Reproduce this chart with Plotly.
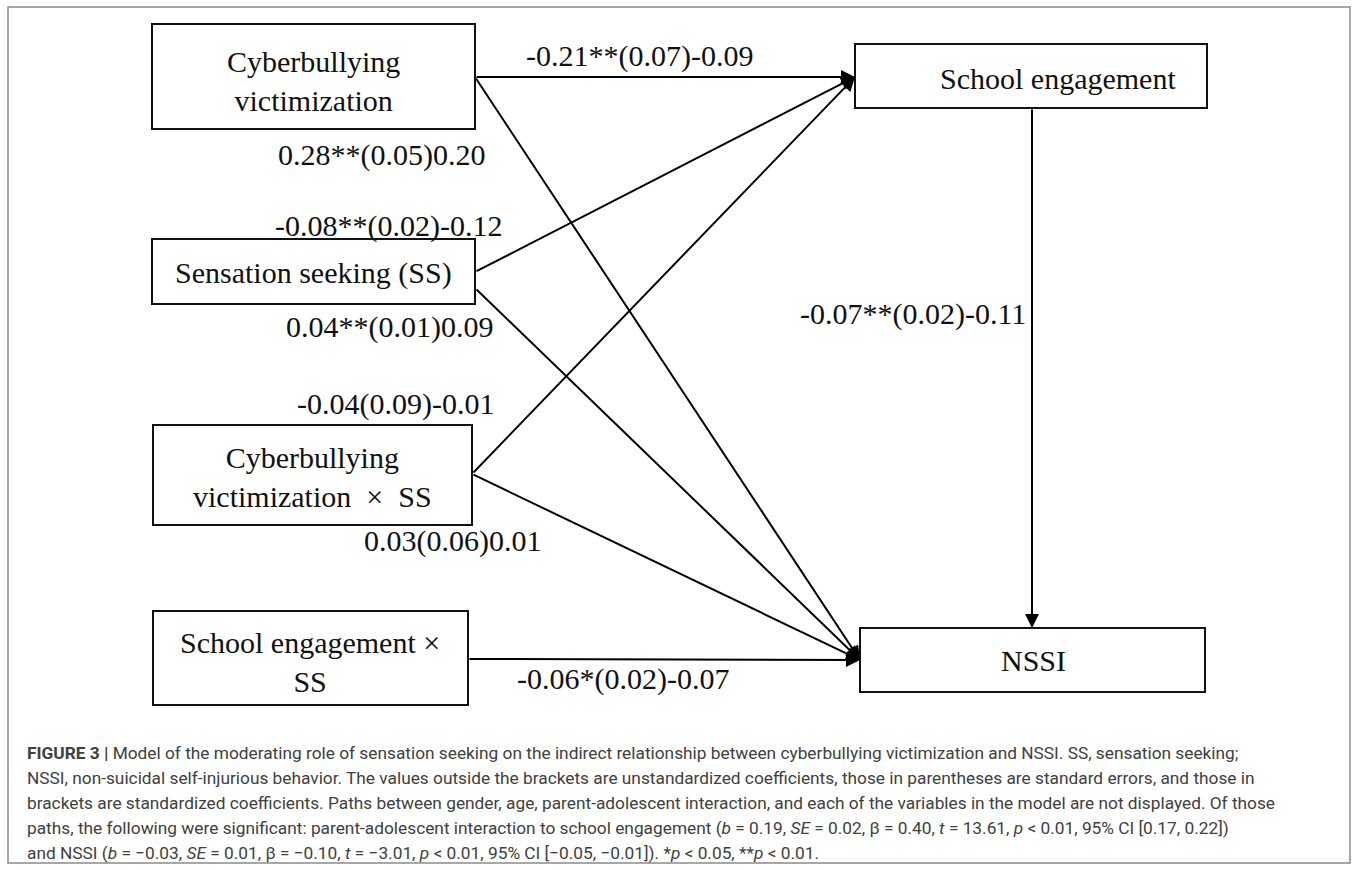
import plotly.graph_objects as go

# ---------------- data ----------------
node_names = ["CV", "SE", "SS", "CVxSS", "SExSS", "NSSI"]
node_labels = ["Cyberbullying<br>victimization", "School engagement", "Sensation seeking (SS)",
               "Cyberbullying<br>victimization\u00a0\u00a0×\u00a0\u00a0SS", "School engagement ×<br>SS", "NSSI"]

path_from = ["CV", "CV", "SS", "SS", "CVxSS", "CVxSS", "SExSS", "SE"]
path_to = ["SE", "NSSI", "SE", "NSSI", "SE", "NSSI", "NSSI", "NSSI"]
path_b = [-0.21, 0.28, -0.08, 0.04, -0.04, 0.03, -0.06, -0.07]
path_se = [0.07, 0.05, 0.02, 0.01, 0.09, 0.06, 0.02, 0.02]
path_beta = [-0.09, 0.20, -0.12, 0.09, -0.01, 0.01, -0.07, -0.11]
path_stars = ["**", "**", "**", "**", "", "", "*", "**"]

caption_lines = [
    "<b>FIGURE 3 |</b> Model of the moderating role of sensation seeking on the indirect relationship between cyberbullying victimization and NSSI. SS, sensation seeking;",
    "NSSI, non-suicidal self-injurious behavior. The values outside the brackets are unstandardized coefficients, those in parentheses are standard errors, and those in",
    "brackets are standardized coefficients. Paths between gender, age, parent-adolescent interaction, and each of the variables in the model are not displayed. Of those",
    "paths, the following were significant: parent-adolescent interaction to school engagement (<i>b</i> = 0.19, <i>SE</i> = 0.02, β = 0.40, <i>t</i> = 13.61, <i>p</i> &lt; 0.01, 95% CI [0.17, 0.22])",
    "and NSSI (<i>b</i> = −0.03, <i>SE</i> = 0.01, β = −0.10, <i>t</i> = −3.01, <i>p</i> &lt; 0.01, 95% CI [−0.05, −0.01]). *<i>p</i> &lt; 0.05, **<i>p</i> &lt; 0.01.",
]

# ---------------- layout (positions in page pixels) ----------------
W, H = 1357, 870
box = {  # x0, x1, y0, y1
    "CV": (152, 475, 24, 129),
    "SE": (855, 1207, 44, 108),
    "SS": (152, 475, 239, 304),
    "CVxSS": (153, 472, 425, 525),
    "SExSS": (153, 468, 611, 705),
    "NSSI": (860, 1205, 628, 692),
}
text_pos = {"CV": (313, 81), "SE": (1058, 78), "SS": (313, 273), "CVxSS": (312, 477),
            "SExSS": (310, 662), "NSSI": (1033, 660)}
tails = [(475, 77), (475, 77), (475, 272), (475, 288), (472, 474), (472, 474), (468, 659), (1032, 108)]
heads = [(855, 77), (860, 660), (855, 77), (860, 660), (855, 77), (860, 660), (860, 660), (1032, 628)]
label_pos = [(639, 56), (381, 155), (388, 226), (389, 327), (395, 404), (452, 541), (623, 679), (913, 314)]

serif = "Liberation Serif, Times New Roman, serif"

fig = go.Figure()
fig.add_trace(go.Scatter(x=[0, W], y=[0, H], mode="markers", marker=dict(opacity=0), hoverinfo="skip",
                         showlegend=False))

shapes = [dict(type="rect", xref="x", yref="y", x0=8, x1=1350, y0=7, y1=863,
               line=dict(color="#8a8a8a", width=1.5), fillcolor="rgba(0,0,0,0)", layer="below")]
annotations = []

for name, lab in zip(node_names, node_labels):
    x0, x1, y0, y1 = box[name]
    shapes.append(dict(type="rect", xref="x", yref="y", x0=x0, x1=x1, y0=y0, y1=y1,
                       line=dict(color="#111111", width=2), fillcolor="white"))
    tx, ty = text_pos[name]
    annotations.append(dict(x=tx, y=ty, xref="x", yref="y", text=lab, showarrow=False,
                            xanchor="center", yanchor="middle",
                            font=dict(family=serif, size=30, color="#111111")))

for i in range(len(path_from)):
    (ax, ay), (hx, hy) = tails[i], heads[i]
    annotations.append(dict(x=hx, y=hy, ax=ax, ay=ay, xref="x", yref="y", axref="x", ayref="y",
                            text="", showarrow=True, arrowhead=2, arrowsize=1.4, arrowwidth=2,
                            arrowcolor="#000000", standoff=0, startstandoff=0))
    lbl = f"{path_b[i]:.2f}{path_stars[i]}({path_se[i]:.2f}){path_beta[i]:.2f}"
    lx, ly = label_pos[i]
    annotations.append(dict(x=lx, y=ly, xref="x", yref="y", text=lbl, showarrow=False,
                            xanchor="center", yanchor="middle",
                            font=dict(family=serif, size=30, color="#111111")))

cap_y = [753, 778, 803, 828, 853]
for line, cy in zip(caption_lines, cap_y):
    annotations.append(dict(x=25, y=cy, xref="x", yref="y", text=line, showarrow=False,
                            xanchor="left", yanchor="middle",
                            font=dict(family="Roboto, Liberation Sans, sans-serif", size=17.3, color="#404040")))

fig.update_layout(
    width=W, height=H, margin=dict(l=0, r=0, t=0, b=0),
    paper_bgcolor="white", plot_bgcolor="white",
    xaxis=dict(range=[0, W], visible=False, fixedrange=True),
    yaxis=dict(range=[H, 0], visible=False, fixedrange=True),
    shapes=shapes, annotations=annotations, showlegend=False,
)

fig.write_html("out.html", config={"displayModeBar": False},
               post_script="document.body.style.margin='0';document.body.style.overflow='hidden';")
